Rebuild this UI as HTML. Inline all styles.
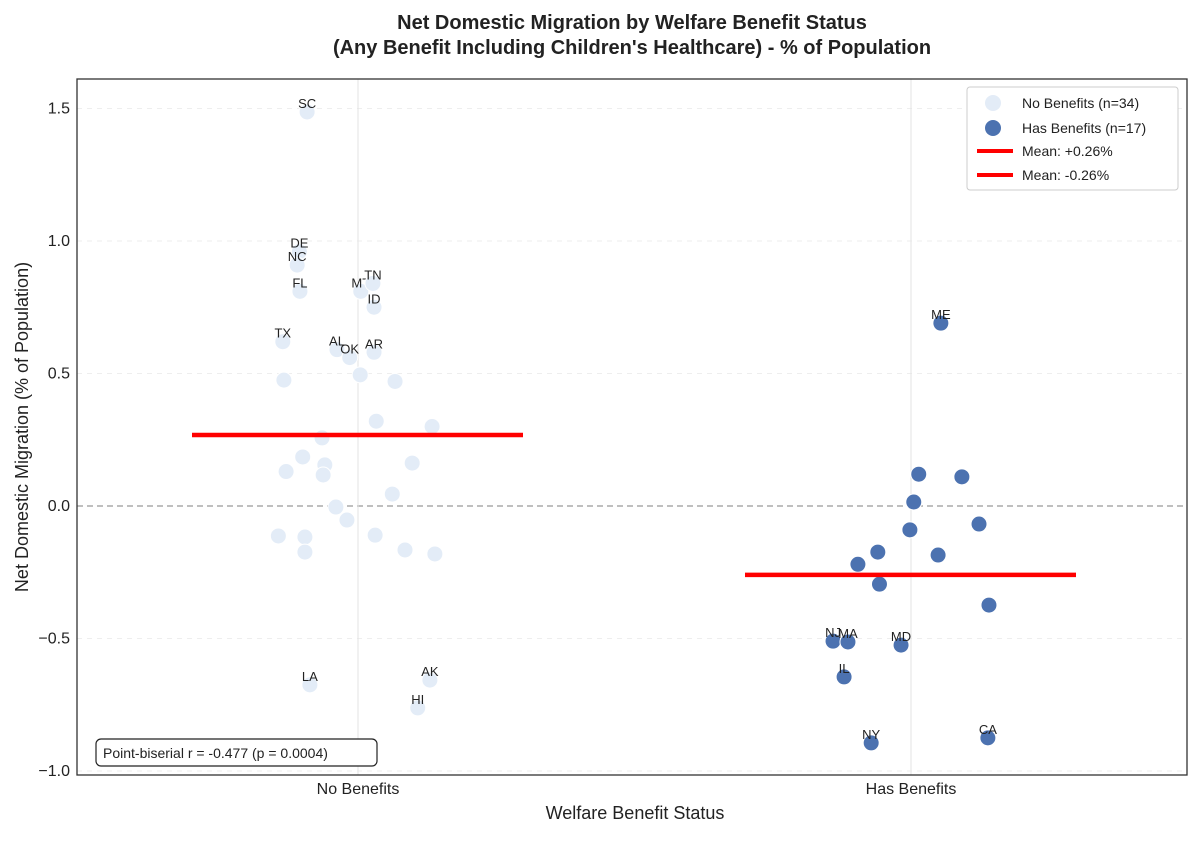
<!DOCTYPE html>
<html><head><meta charset="utf-8"><style>
body{margin:0;background:#fff;font-family:"Liberation Sans",sans-serif}
svg text{font-family:"Liberation Sans",sans-serif}
</style></head><body>
<svg id="c" width="1200" height="836" xmlns="http://www.w3.org/2000/svg">
<text x="632" y="29" text-anchor="middle" font-size="20" font-weight="bold" fill="#222">Net Domestic Migration by Welfare Benefit Status</text>
<text x="632" y="54" text-anchor="middle" font-size="20" font-weight="bold" fill="#222">(Any Benefit Including Children's Healthcare) - % of Population</text>
<g id="grid"></g><g id="pts"></g><g id="means"></g>
<rect x="77" y="79" width="1110" height="696" fill="none" stroke="#333" stroke-width="1.3"/>
<g id="axes"></g>
<text x="635" y="819" text-anchor="middle" font-size="18" fill="#222">Welfare Benefit Status</text>
<text transform="translate(28,427) rotate(-90)" text-anchor="middle" font-size="18" fill="#222">Net Domestic Migration (% of Population)</text>
<g>
<rect x="96" y="739" width="281" height="27" rx="5" fill="#fff" stroke="#222" stroke-width="1.2"/>
<text x="103" y="758" font-size="14" fill="#222">Point-biserial r = -0.477 (p = 0.0004)</text></g>
<g>
<rect x="967" y="87" width="211" height="103" rx="3" fill="#fff" stroke="#ccc"/>
<g><circle cx="993" cy="103" r="8" fill="#e3ecf7"/><text x="1022" y="108" font-size="14" fill="#222">No Benefits (n=34)</text></g>
<g><circle cx="993" cy="128" r="8" fill="#4c72b0"/><text x="1022" y="133" font-size="14" fill="#222">Has Benefits (n=17)</text></g>
<g><line x1="977" x2="1013" y1="151" y2="151" stroke="#f00" stroke-width="4"/><text x="1022" y="156" font-size="14" fill="#222">Mean: +0.26%</text></g>
<g><line x1="977" x2="1013" y1="175" y2="175" stroke="#f00" stroke-width="4"/><text x="1022" y="180" font-size="14" fill="#222">Mean: -0.26%</text></g>
</g>
</svg>
<script>
const categories=["No Benefits","Has Benefits"];
const yTicks=[1.5,1.0,0.5,0.0,-0.5,-1.0];
const yTickLabels=["1.5","1.0","0.5","0.0","\u22120.5","\u22121.0"];
const noLabels=["SC","DE","NC","FL","MT","TN","ID","TX","AL","OK","AR","","","","","","","","","","","","","","","","","","","","","LA","AK","HI"];
const noValues=[1.487,0.96,0.909,0.81,0.81,0.84,0.75,0.62,0.59,0.56,0.58,0.475,0.495,0.47,0.32,0.30,0.257,0.185,0.13,0.155,0.117,0.162,0.045,-0.004,-0.053,-0.113,-0.117,-0.11,-0.174,-0.166,-0.181,-0.675,-0.657,-0.762];
const noJitter=[-0.092,-0.106,-0.11,-0.105,0.005,0.027,0.029,-0.136,-0.038,-0.015,0.029,-0.134,0.004,0.067,0.033,0.134,-0.065,-0.1,-0.13,-0.06,-0.063,0.098,0.062,-0.04,-0.02,-0.144,-0.096,0.031,-0.096,0.085,0.139,-0.087,0.13,0.108];
const hasLabels=["ME","","","","","","","","","","","NJ","MA","MD","IL","NY","CA"];
const hasValues=[0.69,0.12,0.11,0.015,-0.068,-0.09,-0.185,-0.174,-0.22,-0.295,-0.374,-0.51,-0.513,-0.525,-0.645,-0.894,-0.875];
const hasJitter=[0.054,0.014,0.092,0.005,0.123,-0.002,0.049,-0.06,-0.096,-0.057,0.141,-0.141,-0.114,-0.018,-0.121,-0.072,0.139];
const means=[0.268,-0.26];
const NS="http://www.w3.org/2000/svg";
const y=v=>506-v*265, x=c=>358+c*553;
function mk(p,t,a){const e=document.createElementNS(NS,t);for(const k in a)e.setAttribute(k,a[k]);document.getElementById(p).appendChild(e);return e;}
yTicks.forEach((t,i)=>{
 const g=mk('grid','line',{x1:77,x2:1187,y1:y(t),y2:y(t),stroke:t===0?'#999':'#eee','stroke-dasharray':t===0?'6,4':'5,5','stroke-width':t===0?1.3:1});
 
 
 const l=mk('axes','text',{x:70,y:y(t)+5,'text-anchor':'end','font-size':16,fill:'#222'});l.textContent=yTickLabels[i];
 
 
});
categories.forEach((c,i)=>{
 const g=mk('grid','line',{x1:x(i),x2:x(i),y1:79,y2:775,stroke:'#e3e3e3'});
 
 
 const l=mk('axes','text',{x:x(i),y:794,'text-anchor':'middle','font-size':16,fill:'#222'});l.textContent=c;
 
 
});
function series(vals,jit,labs,ci,fill){
 vals.forEach((v,i)=>{
  const cx=x(ci+jit[i]),cy=y(v);
  const p=mk('pts','circle',{cx:cx,cy:cy,r:8,fill:fill,stroke:'#fff','stroke-width':1});
  
  
  if(labs[i]){const t=mk('pts','text',{x:cx,y:cy-4,'text-anchor':'middle','font-size':13,fill:'#222'});t.textContent=labs[i];
   
   }
 });
}
series(noValues,noJitter,noLabels,0,'#e3ecf7');
series(hasValues,hasJitter,hasLabels,1,'#4c72b0');
means.forEach((m,i)=>{
 const l=mk('means','line',{x1:x(i)-166,x2:x(i)+165,y1:y(m),y2:y(m),stroke:'#f00','stroke-width':4.5});
 
 
});
</script>
</body></html>
